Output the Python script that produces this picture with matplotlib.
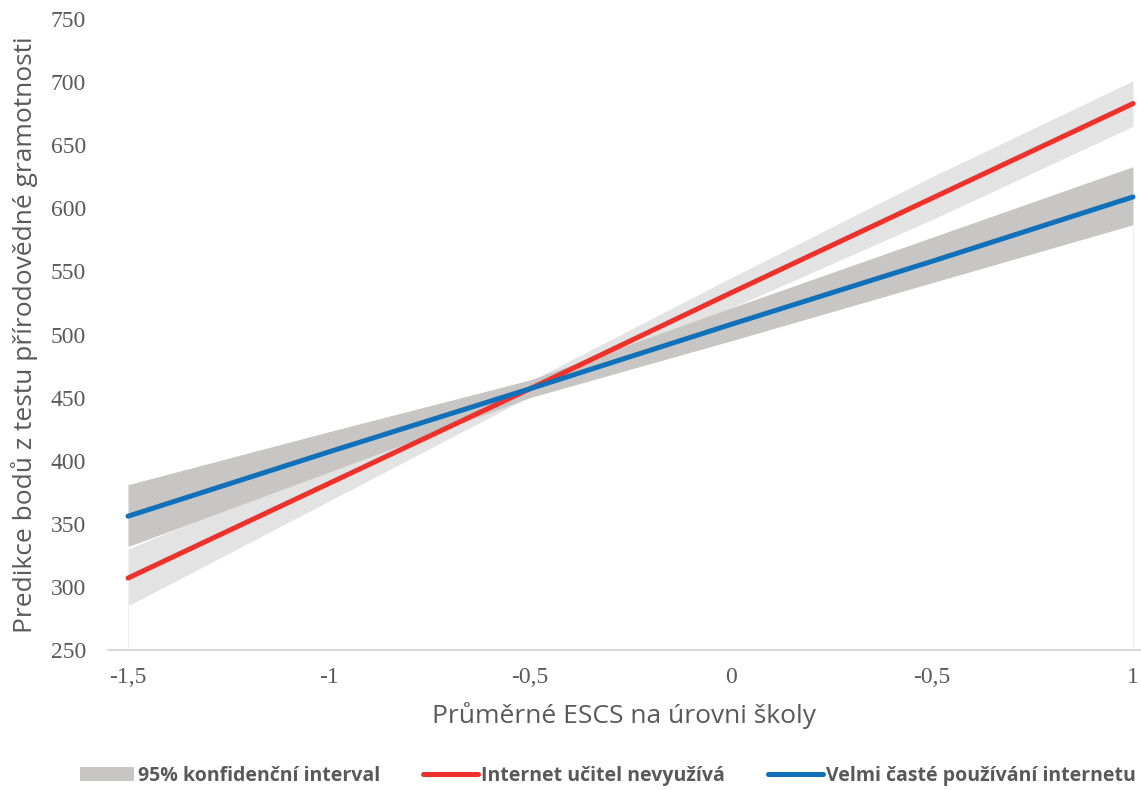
import matplotlib
matplotlib.use('Agg')
import matplotlib.pyplot as plt
from matplotlib.patches import Patch
from matplotlib.lines import Line2D

# data
escs = [-1.5, -1, -0.5, 0, 0.5, 1]
tick_labels = ['-1,5', '-1', '-0,5', '0', '-0,5', '1']

red_mid = [307, 382, 457, 533, 608, 683]
red_lo = [285, 368, 451, 521, 591, 665]
red_hi = [330, 396, 463, 545, 625, 701]

blue_mid = [356, 407, 457, 508, 558, 609]
blue_lo = [332, 391, 450, 495, 541, 587]
blue_hi = [381, 423, 464, 521, 577, 633]

# colours
c_red = '#EE312B'
c_blue = '#1071BA'
c_band_dark = '#C8C6C4'
c_band_light = '#E3E3E3'
c_text = '#595959'

fig = plt.figure(figsize=(11.41, 7.90), dpi=100)
ax = fig.add_axes([108 / 1141, 1 - 650 / 790, 1 - 108 / 1141, 631 / 790])

ax.vlines([escs[0], escs[-1]], 250, [min(red_lo[0], blue_lo[0]), min(red_lo[-1], blue_lo[-1])],
          color='#EFEFEF', lw=0.8, zorder=1)
ax.fill_between(escs, red_lo, red_hi, color=c_band_light, lw=0, zorder=2)
ax.fill_between(escs, blue_lo, blue_hi, color=c_band_dark, lw=0, zorder=3)
ax.plot(escs, red_mid, color=c_red, lw=3.6, solid_capstyle='round', zorder=4)
ax.plot(escs, blue_mid, color=c_blue, lw=3.6, solid_capstyle='round', zorder=5)

ax.set_xlim(-1.5 - 20 / 402, 1 + 8 / 402)
ax.set_ylim(250, 750)
ax.set_xticks(escs)
ax.set_xticklabels(tick_labels)
ax.set_yticks(range(250, 751, 50))

for s in ['top', 'right', 'left']:
    ax.spines[s].set_visible(False)
ax.spines['bottom'].set_color('#D9D9D9')
ax.spines['bottom'].set_linewidth(1.5)

ax.tick_params(length=0, labelsize=17, labelcolor=c_text)
ax.tick_params(axis='x', pad=12)
ax.tick_params(axis='y', pad=16)
for lab in ax.get_xticklabels() + ax.get_yticklabels():
    lab.set_fontfamily('Liberation Serif')

ax.set_xlabel('Průměrné ESCS na úrovni školy', fontsize=19, color=c_text,
              family='Open Sans', labelpad=10)
ax.set_ylabel('Predikce bodů z testu přírodovědné gramotnosti', fontsize=19,
              color=c_text, family='Open Sans', labelpad=9)

handles = [
    Patch(facecolor=c_band_dark, edgecolor='none'),
    Line2D([], [], color=c_red, lw=3.6, solid_capstyle='round'),
    Line2D([], [], color=c_blue, lw=3.6, solid_capstyle='round'),
]
labels = ['95% konfidenční interval', 'Internet učitel nevyužívá', 'Velmi časté používání internetu']
fig.legend(handles, labels, loc='center', bbox_to_anchor=(608 / 1141, 1 - 776 / 790),
           ncol=3, frameon=False, handlelength=2.8, handletextpad=0.2,
           columnspacing=2.2, prop={'family': 'Open Sans', 'weight': 'bold', 'size': 14},
           labelcolor=c_text)

fig.savefig('out.png', dpi=100)
